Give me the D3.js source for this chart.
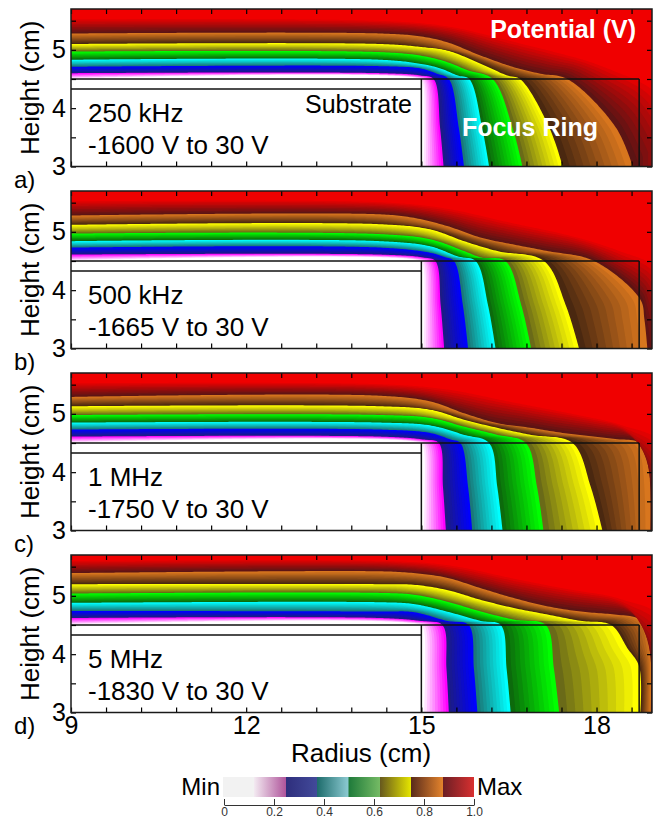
<!DOCTYPE html>
<html>
<head>
<meta charset="utf-8">
<script src="https://cdn.jsdelivr.net/npm/d3@7"></script>
<style>
body { margin: 0; background: #fff; }
text { font-family: "Liberation Sans", Arial, sans-serif; }
</style>
</head>
<body>
<svg id="chart"></svg>
<script>
// ---- data ----
var panelLabels = ["a)", "b)", "c)", "d)"];
var freqLabels = ["250 kHz", "500 kHz", "1 MHz", "5 MHz"];
var rangeLabels = ["-1600 V to 30 V", "-1665 V to 30 V", "-1750 V to 30 V", "-1830 V to 30 V"];
var levels = [0.125, 0.25, 0.375, 0.5, 0.625, 0.75, 0.875, 1.0];
var xTickLabels = [9, 12, 15, 18];
var yTickLabels = [3, 4, 5];
var cbTickValues = [0, 0.2, 0.4, 0.6, 0.8, 1.0];
var cbTickLabels = ["0", "0.2", "0.4", "0.6", "0.8", "1.0"];

// substrate and focus ring outlines (radius / height, cm)
var substrate = { r0: 9, r1: 15, top: 4.33 };
var focusRing = { r0: 15, r1: 18.73, top: 4.5 };

// iso-potential lines [radius, height] for each level in `levels`
var contours250k = [
  [[9,4.5],[14.95,4.5],[15,4.44],[15,3]],
  [[9,4.60],[14.3,4.60],[14.99,4.56],[15.21,4.5],[15.32,3.67],[15.38,3.0]],
  [[9,4.71],[14.3,4.72],[14.99,4.68],[15.27,4.59],[15.47,4.5],[15.64,3.67],[15.73,3.0]],
  [[9,4.83],[14.3,4.83],[14.99,4.76],[15.33,4.68],[15.62,4.56],[15.82,4.5],[16.04,3.67],[16.16,3.0]],
  [[9,4.97],[14.3,4.96],[14.99,4.90],[15.44,4.79],[15.79,4.65],[16.22,4.5],[16.56,3.67],[16.73,3.0]],
  [[9,5.10],[14.3,5.10],[14.99,5.05],[15.44,4.99],[16.02,4.76],[16.47,4.56],[16.69,4.5],[17.19,3.67],[17.42,3.0]],
  [[9,5.28],[14.3,5.28],[14.99,5.23],[15.44,5.13],[16.02,4.90],[16.59,4.70],[17.04,4.59],[17.50,4.5],[18.33,3.67],[18.62,3.0]],
  [[9,5.55],[14.3,5.52],[15.5,5.42],[16.5,5.2],[17.5,4.95],[18.3,4.7],[19.0,4.4],[19.5,3.8]]
];
var contours500k = [
  [[9,4.5],[14.95,4.5],[15,4.44],[15,3]],
  [[9,4.61],[14.3,4.61],[15.04,4.56],[15.24,4.5],[15.33,3.75],[15.39,3.0]],
  [[9,4.73],[14.3,4.73],[15.16,4.64],[15.39,4.57],[15.56,4.5],[15.71,3.75],[15.80,3.0]],
  [[9,4.84],[14.3,4.84],[15.16,4.75],[15.62,4.58],[15.93,4.5],[16.14,3.75],[16.27,3.0]],
  [[9,4.97],[14.3,4.96],[15.16,4.87],[15.73,4.67],[16.02,4.56],[16.44,4.5],[16.71,3.75],[16.88,3.0]],
  [[9,5.12],[14.3,5.13],[15.16,5.04],[15.73,4.84],[16.30,4.67],[17.10,4.5],[17.47,3.75],[17.70,3.0]],
  [[9,5.28],[14.3,5.30],[14.87,5.24],[15.44,5.10],[16.02,4.90],[16.59,4.78],[17.16,4.67],[17.96,4.5],[18.75,3.84],[18.82,3.50],[18.87,3.0]],
  [[9,5.55],[14.3,5.53],[15.5,5.42],[16.5,5.2],[17.5,4.98],[18.4,4.72],[19.0,4.5],[19.4,4.0]]
];
var contours1M = [
  [[9,4.5],[14.95,4.5],[15,4.44],[15,3]],
  [[9,4.61],[14.3,4.61],[15.04,4.56],[15.30,4.5],[15.37,3.75],[15.42,3.0]],
  [[9,4.73],[14.3,4.73],[15.16,4.67],[15.50,4.56],[15.67,4.5],[15.80,3.75],[15.87,3.0]],
  [[9,4.85],[14.3,4.85],[15.16,4.80],[15.73,4.64],[16.16,4.5],[16.30,3.75],[16.39,3.0]],
  [[9,4.98],[14.3,4.98],[15.16,4.93],[15.73,4.78],[16.30,4.64],[16.79,4.5],[16.98,3.75],[17.09,3.0]],
  [[9,5.13],[14.3,5.13],[15.16,5.07],[15.73,4.90],[16.30,4.76],[16.87,4.64],[17.59,4.5],[17.90,3.75],[18.10,3.0]],
  [[9,5.29],[14.3,5.31],[15.16,5.21],[15.73,5.01],[16.30,4.84],[16.87,4.76],[17.44,4.67],[18.30,4.57],[18.73,4.51],[18.87,4.27],[18.92,3.0]],
  [[9,5.55],[14.3,5.53],[15.5,5.45],[16.5,5.25],[17.5,5.05],[18.4,4.85],[19.0,4.7],[19.4,4.2]]
];
var contours5M = [
  [[9,4.5],[14.95,4.5],[15,4.44],[15,3]],
  [[9,4.62],[14.3,4.62],[14.99,4.57],[15.36,4.5],[15.43,3.75],[15.47,3.0]],
  [[9,4.74],[14.3,4.73],[14.87,4.72],[15.44,4.57],[15.81,4.5],[15.90,3.75],[15.96,3.0]],
  [[9,4.88],[14.3,4.89],[14.87,4.86],[15.44,4.73],[16.02,4.57],[16.36,4.5],[16.46,3.75],[16.53,3.0]],
  [[9,5.04],[14.3,5.05],[14.87,5.02],[15.44,4.90],[16.02,4.73],[16.59,4.59],[17.13,4.5],[17.27,3.75],[17.36,3.0]],
  [[9,5.20],[14.3,5.20],[14.87,5.19],[15.44,5.10],[16.02,4.93],[16.59,4.79],[17.16,4.68],[17.73,4.57],[18.25,4.5],[18.53,4.10],[18.73,3.79],[18.75,3.0]],
  [[9,5.39],[14.3,5.42],[14.87,5.39],[15.44,5.31],[16.02,5.13],[16.59,4.96],[17.16,4.82],[17.73,4.73],[18.30,4.68],[18.70,4.62],[18.87,4.48],[18.92,4.2],[18.93,3.0]],
  [[9,5.62],[14.3,5.62],[15.5,5.55],[16.5,5.35],[17.5,5.15],[18.4,5.0],[19.0,4.85],[19.4,4.4]]
];

// ---- styles ----
// each band shades from a dark colour at its lower level to a bright one at its upper level
var bandDark = ["#ffffff", "#1c1c84", "#1a7878", "#0c6a0c", "#6a6a18", "#4a2810", "#5c1414"];
var bandBright = ["#ff00ff", "#0000ff", "#00ffff", "#00ff00", "#ffff00", "#d8761e", "#f00000"];
var cbDark = ["#f2f2f2", "#f2e8f0", "#2e2e7c", "#1e6c6c", "#1e7a3a", "#66581e", "#5a2c1c", "#6a1e24"];
var cbBright = ["#f2f2f2", "#b0569c", "#424a9a", "#8ccad2", "#74ba64", "#e6e600", "#e2822c", "#d83030"];

var width = 655, height = 820;
var panelTop = [9, 191, 373, 555], panelH = 157.5;
var font = "'Liberation Sans', Arial, sans-serif";

var svg = d3.select("#chart").attr("width", width).attr("height", height);

var x = d3.scaleLinear().domain([9, 18.95]).range([71, 652]);
var x0 = x.range()[0], x1 = x.range()[1];
var xMinor = d3.range(0, 17).map(function(i) { return 9 + i * 0.6; });
var yMinor = d3.range(0, 6).map(function(i) { return 3 + i * 0.5; });

function findLabel(list, d) {
  var m = list.find(function(v) { return Math.abs(v - d) < 1e-6; });
  return m === undefined ? "" : m;
}

// resample a smoothed line by arc length so two lines can be blended point by point
var sampler = svg.append("path").attr("fill", "none").attr("stroke", "none");
var N = 300, STEPS = 10;
function resample(line, ys) {
  var d = d3.line().x(function(p) { return x(p[0]); }).y(function(p) { return ys(p[1]); })
    .curve(d3.curveCatmullRom.alpha(0.5))(line);
  sampler.attr("d", d);
  var node = sampler.node(), len = node.getTotalLength();
  return d3.range(N + 1).map(function(i) {
    var p = node.getPointAtLength(len * i / N);
    return [p.x, p.y];
  });
}
function mix(a, b, t) {
  return a.map(function(p, i) { return [p[0] + (b[i][0] - p[0]) * t, p[1] + (b[i][1] - p[1]) * t]; });
}
// polygon covering the high-potential side (above / right) of a line
function highSide(pts, top, bottom) {
  var f = pts[0], l = pts[pts.length - 1];
  var poly = [[x0 - 60, f[1]]].concat(pts, [[l[0], bottom + 60], [x1 + 60, bottom + 60], [x1 + 60, top - 60], [x0 - 60, top - 60]]);
  return "M" + poly.map(function(p) { return p[0].toFixed(2) + "," + p[1].toFixed(2); }).join("L") + "Z";
}

var panelContours = [contours250k, contours500k, contours1M, contours5M];

panelContours.forEach(function(contours, i) {
  var top = panelTop[i], bottom = top + panelH;
  var y = d3.scaleLinear().domain([3, 5.7]).range([bottom, top]);
  var g = svg.append("g").attr("class", "panel");

  g.append("clipPath").attr("id", "clip" + i).append("rect")
    .attr("x", x0).attr("y", top).attr("width", x1 - x0).attr("height", panelH);
  var field = g.append("g").attr("clip-path", "url(#clip" + i + ")");
  field.append("rect").attr("x", x0).attr("y", top).attr("width", x1 - x0).attr("height", panelH).attr("fill", "#fff");

  var lines = contours.map(function(c) { return resample(c, y); });
  for (var k = 0; k < lines.length - 1; k++) {
    var shade = d3.interpolateRgb(bandDark[k], bandBright[k]);
    for (var j = 0; j < STEPS; j++) {
      field.append("path")
        .attr("d", highSide(mix(lines[k], lines[k + 1], j / STEPS), top, bottom))
        .attr("fill", shade(j / (STEPS - 1)));
    }
  }
  field.append("path").attr("d", highSide(lines[lines.length - 1], top, bottom))
    .attr("fill", bandBright[bandBright.length - 1]);

  // substrate region is outside the field
  field.append("rect").attr("x", x(substrate.r0)).attr("y", y(focusRing.top))
    .attr("width", x(substrate.r1) - x(substrate.r0)).attr("height", y(3) - y(focusRing.top))
    .attr("fill", "#fff");

  // outlines of substrate and focus ring
  var outline = g.append("g").attr("stroke", "#111").attr("stroke-width", 1.5).attr("fill", "none");
  outline.append("line").attr("x1", x(substrate.r0)).attr("x2", x(focusRing.r1))
    .attr("y1", y(focusRing.top)).attr("y2", y(focusRing.top));
  outline.append("line").attr("x1", x(substrate.r0)).attr("x2", x(substrate.r1))
    .attr("y1", y(substrate.top)).attr("y2", y(substrate.top));
  outline.append("line").attr("x1", x(focusRing.r0)).attr("x2", x(focusRing.r0))
    .attr("y1", y(focusRing.top)).attr("y2", y(3));
  outline.append("line").attr("x1", x(focusRing.r1)).attr("x2", x(focusRing.r1))
    .attr("y1", y(focusRing.top)).attr("y2", y(3));

  // axes, ticks pointing inward
  var axL = g.append("g").attr("transform", "translate(" + x0 + ",0)")
    .call(d3.axisLeft(y).tickValues(yMinor).tickSize(-5).tickPadding(5)
      .tickFormat(function(d) { return findLabel(yTickLabels, d); }));
  var axR = g.append("g").attr("transform", "translate(" + x1 + ",0)")
    .call(d3.axisRight(y).tickValues(yMinor).tickSize(-5).tickFormat(""));
  var axT = g.append("g").attr("transform", "translate(0," + top + ")")
    .call(d3.axisTop(x).tickValues(xMinor).tickSize(-5).tickFormat(""));
  var axB = g.append("g").attr("transform", "translate(0," + bottom + ")")
    .call(d3.axisBottom(x).tickValues(xMinor).tickSize(-5).tickPadding(4)
      .tickFormat(function(d) { return i === 3 ? findLabel(xTickLabels, d) : ""; }));
  [axL, axR, axT, axB].forEach(function(a) {
    a.select(".domain").remove();
    a.attr("font-size", 25).attr("font-family", font);
    a.selectAll(".tick line").attr("stroke-width", 1.2);
  });

  g.append("rect").attr("x", x0).attr("y", top).attr("width", x1 - x0).attr("height", panelH)
    .attr("fill", "none").attr("stroke", "#1a1a1a").attr("stroke-width", 1.5);

  g.append("text").attr("transform", "translate(39," + (top + panelH / 2) + ") rotate(-90)")
    .attr("text-anchor", "middle").attr("font-size", 26).text("Height (cm)");
  g.append("text").attr("x", 14).attr("y", bottom + 21).attr("font-size", 24).text(panelLabels[i]);
  g.append("text").attr("x", 88).attr("y", top + 112.7).attr("font-size", 26).text(freqLabels[i]);
  g.append("text").attr("x", 88).attr("y", top + 145).attr("font-size", 26).text(rangeLabels[i]);

  if (i === 0) {
    g.append("text").attr("x", 412).attr("y", top + 104).attr("text-anchor", "end")
      .attr("font-size", 25).text("Substrate");
    g.append("text").attr("x", 636).attr("y", top + 29).attr("text-anchor", "end")
      .attr("font-size", 25).attr("font-weight", "bold").attr("fill", "#fff").text("Potential (V)");
    g.append("text").attr("x", 598).attr("y", top + 127).attr("text-anchor", "end")
      .attr("font-size", 25).attr("font-weight", "bold").attr("fill", "#fff").text("Focus Ring");
  }
});
sampler.remove();

svg.append("text").attr("x", 361).attr("y", 762).attr("text-anchor", "middle")
  .attr("font-size", 26).text("Radius (cm)");

// ---- colour bar ----
var cb = d3.scaleLinear().domain([0, 1]).range([224, 474]);
var grad = svg.append("defs").append("linearGradient").attr("id", "cbgrad")
  .attr("x1", "0%").attr("x2", "100%").attr("y1", "0%").attr("y2", "0%");
cbDark.forEach(function(c, k) {
  grad.append("stop").attr("offset", (k / 8 + 0.0005)).attr("stop-color", c);
  grad.append("stop").attr("offset", ((k + 1) / 8 - 0.0005)).attr("stop-color", cbBright[k]);
});
svg.append("rect").attr("x", cb(0) - 1).attr("y", 777).attr("width", cb(1) - cb(0) + 1).attr("height", 20)
  .attr("fill", "url(#cbgrad)");
var cbAxis = svg.append("g").attr("transform", "translate(0,805)")
  .call(d3.axisBottom(cb).tickValues(cbTickValues).tickSize(-6).tickSizeOuter(0).tickPadding(2)
    .tickFormat(function(d, k) { return cbTickLabels[k]; }));
cbAxis.attr("font-size", 12).attr("font-family", font).attr("color", "#333");
svg.append("text").attr("x", 220).attr("y", 795).attr("text-anchor", "end").attr("font-size", 24).text("Min");
svg.append("text").attr("x", 477).attr("y", 795).attr("font-size", 24).text("Max");
</script>
</body>
</html>
